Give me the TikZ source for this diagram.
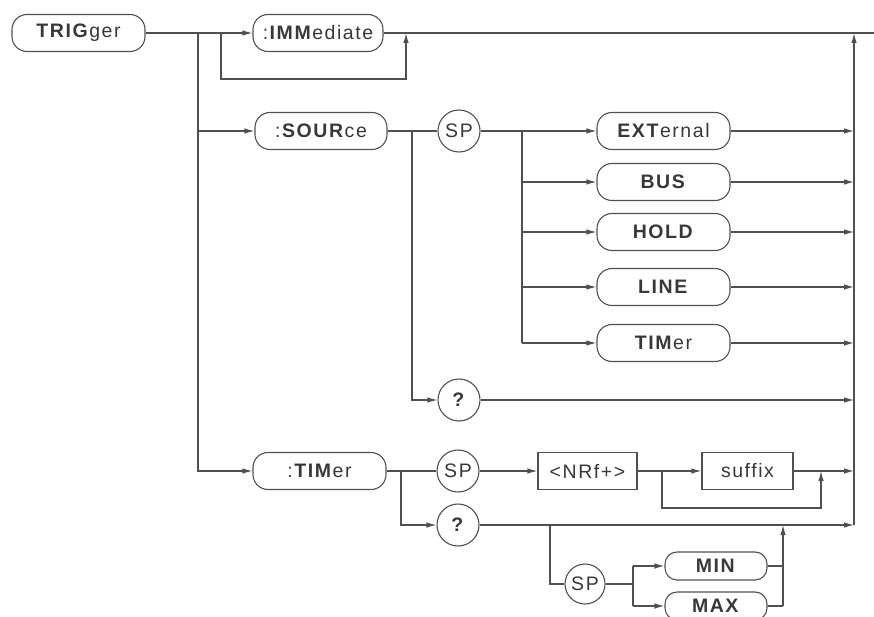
\documentclass[tikz,border=0pt]{standalone}
\usepackage{fontspec}
\setmainfont{Liberation Sans}
\newfontfamily\dfont[LetterSpace=8]{Liberation Sans}
\usetikzlibrary{arrows.meta}
\definecolor{ln}{HTML}{505050}
\definecolor{tx}{HTML}{383838}
\tikzset{
  base/.style={draw=ln, line width=1.1pt, text=tx, font=\dfont\fontsize{19.5}{21}\selectfont, inner sep=0pt, align=center},
  kw/.style={base, rounded corners=15pt, minimum height=37pt},
  kws/.style={base, rounded corners=12pt, minimum height=28pt, minimum width=102pt},
  circ/.style={base, circle, minimum size=42pt},
  sq/.style={base, minimum height=37pt},
  wire/.style={draw=ln, line width=1.1pt},
  arr/.style={wire, -{Latex[length=10pt,width=5.5pt]}},
}
\begin{document}
\begin{tikzpicture}[x=1pt,y=-1pt]
\useasboundingbox (0,0) rectangle (874,617);
\coordinate (rv) at (854,0);
% nodes
\node[kw, minimum width=133pt] (trig) at (78.5,33) {\textbf{TRIG}ger};
\node[kw, minimum width=130pt] (imm) at (318,33) {:\textbf{IMM}ediate};
\node[kw, minimum width=132pt] (src) at (321,131) {:\textbf{SOUR}ce};
\node[circ] (sp1) at (459,131) {SP};
\node[kw, minimum width=133pt] (ext) at (663.5,131) {\textbf{EXT}ernal};
\node[kw, minimum width=133pt] (bus) at (663.5,182) {\textbf{BUS}};
\node[kw, minimum width=133pt] (hold) at (663.5,232) {\textbf{HOLD}};
\node[kw, minimum width=133pt] (line) at (663.5,287) {\textbf{LINE}};
\node[kw, minimum width=133pt] (tmr) at (663.5,343) {\textbf{TIM}er};
\node[circ] (q1) at (459,400) {\textbf{?}};
\node[kw, minimum width=133pt] (timr) at (319.5,471) {:\textbf{TIM}er};
\node[circ] (sp2) at (458,471) {SP};
\node[sq, minimum width=99pt] (nrf) at (587.5,471) {<NRf+>};
\node[sq, minimum width=91pt] (sfx) at (747.5,471) {suf{}fix};
\node[circ] (q2) at (458,525) {\textbf{?}};
\node[circ, minimum size=40pt] (sp3) at (585,584) {SP};
\node[kws] (min) at (716,566) {\textbf{MIN}};
\node[kws] (max) at (716,606) {\textbf{MAX}};
% main line
\draw[arr] (trig) -- (imm);
\draw[wire] (imm.east) -- (874,33);
\draw[arr] (221,33) |- (406,79) -- (406,33);
\draw[arr] (198,33) |- (timr.west);
\draw[arr] (198,131) -- (src.west);
\draw[arr] (854,525) -- (854,33);
% SOURce
\draw[wire] (src) -- (sp1);
\draw[arr] (412,131) |- (q1.west);
\draw[arr] (sp1) -- (ext);
\draw[wire] (522,131) -- (522,343);
\foreach \n in {bus,hold,line,tmr}{\draw[arr] (\n.west -| 522,0) -- (\n.west);}
\foreach \n in {ext,bus,hold,line,tmr,q1}{\draw[arr] (\n.east) -- (\n.east -| rv);}
% TIMer
\draw[wire] (timr) -- (sp2);
\draw[arr] (401,471) |- (q2.west);
\draw[arr] (sp2) -- (nrf);
\draw[arr] (nrf) -- (sfx);
\draw[arr] (662,471) |- (821,508) -- (821,471);
\draw[arr] (sfx.east) -- (sfx.east -| rv);
\draw[arr] (q2.east) -- (q2.east -| rv);
\draw[wire] (550,525) |- (sp3.west);
\draw[wire] (sp3.east) -- (633,584);
\draw[wire] (633,566) -- (633,606);
\draw[arr] (633,566) -- (min.west);
\draw[arr] (633,606) -- (max.west);
\draw[wire] (min.east) -- (783,566);
\draw[wire] (max.east) -- (783,606);
\draw[arr] (783,606) -- (783,525);
\end{tikzpicture}
\end{document}
